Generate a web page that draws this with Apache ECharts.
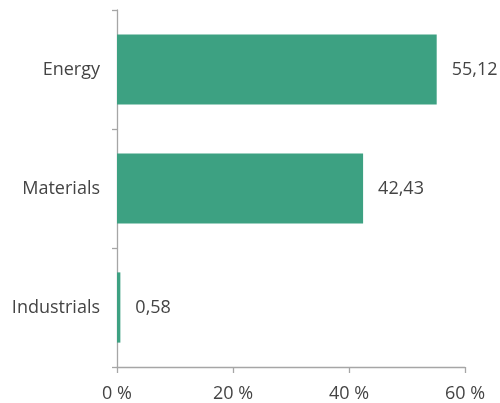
<!DOCTYPE html>
<html>
<head>
<meta charset="utf-8">
<script src="https://cdn.jsdelivr.net/npm/echarts@6/dist/echarts.min.js"></script>
<style>
html,body{margin:0;padding:0;background:#fff;}
#chart{width:500px;height:403px;}
</style>
</head>
<body>
<div id="chart"></div>
<script>
const categories = ['Energy', 'Materials', 'Industrials'];
const values = [55.12, 42.43, 0.58];
const xTicks = [0, 20, 40, 60];

const axisColor = '#a6a6a6';
const textColor = '#444444';
const font = '"Open Sans", sans-serif';

const chart = echarts.init(document.getElementById('chart'), null, {renderer: 'canvas'});
chart.setOption({
  animation: false,
  backgroundColor: '#ffffff',
  grid: {left: 117, right: 35, top: 10, bottom: 35, containLabel: false},
  xAxis: {
    type: 'value',
    min: xTicks[0],
    max: xTicks[xTicks.length - 1],
    interval: xTicks[1] - xTicks[0],
    splitLine: {show: false},
    axisLine: {show: true, lineStyle: {color: axisColor, width: 1.3}},
    axisTick: {show: true, length: 6, lineStyle: {color: axisColor, width: 1.3}},
    axisLabel: {
      margin: 18,
      color: textColor,
      fontFamily: font,
      fontSize: 18,
      formatter: v => v + ' %'
    }
  },
  yAxis: {
    type: 'category',
    data: categories,
    inverse: true,
    axisLine: {show: true, lineStyle: {color: axisColor, width: 1.3}},
    axisTick: {show: true, length: 5, lineStyle: {color: axisColor, width: 1.3}},
    axisLabel: {
      margin: 17,
      color: textColor,
      fontFamily: font,
      fontSize: 18
    }
  },
  series: [{
    type: 'bar',
    data: values,
    barCategoryGap: '41%',
    itemStyle: {color: '#3da182'},
    label: {
      show: true,
      position: 'right',
      distance: 15,
      color: textColor,
      fontFamily: font,
      fontSize: 18,
      formatter: p => p.value.toFixed(2).replace('.', ',')
    }
  }]
});
</script>
</body>
</html>
